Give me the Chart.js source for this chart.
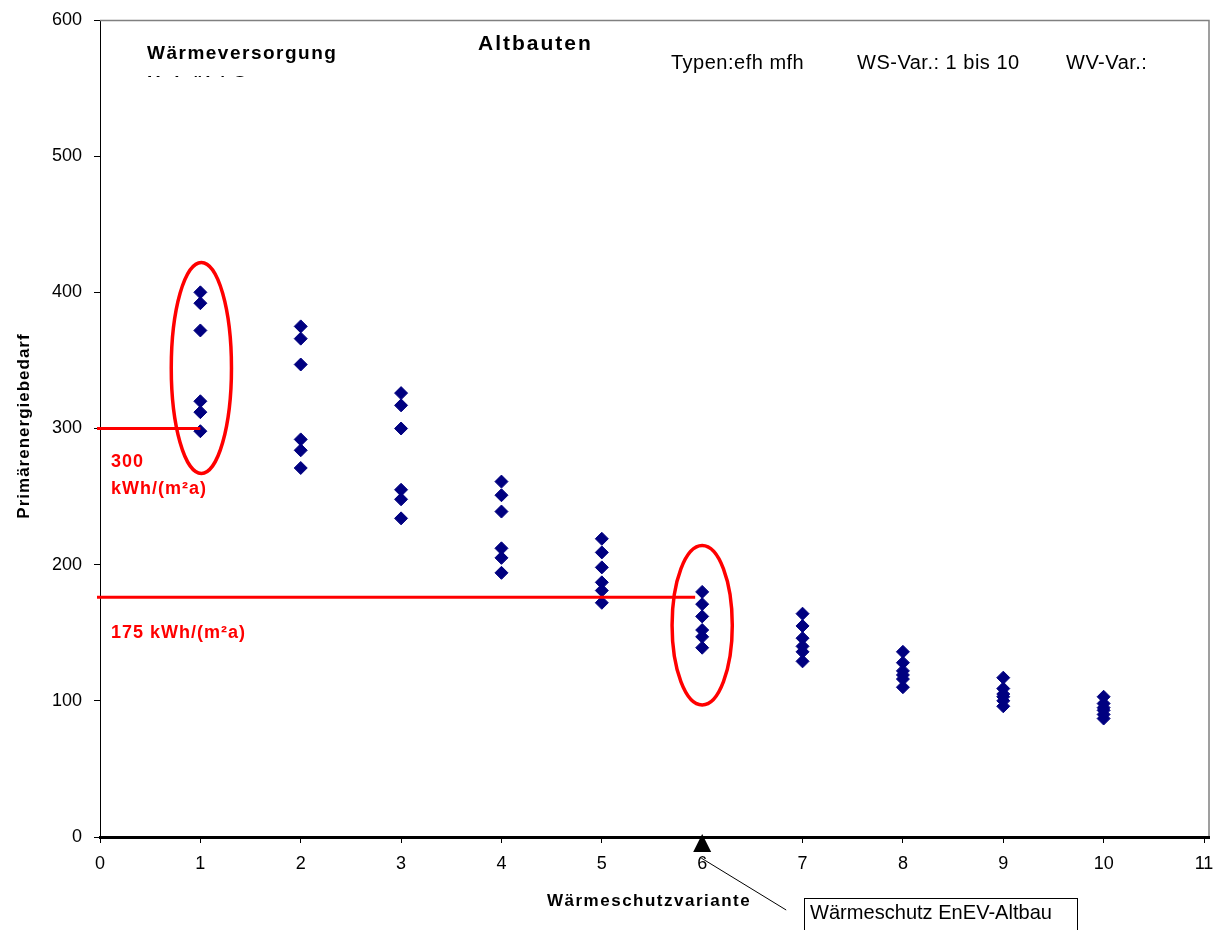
<!DOCTYPE html>
<html lang="de">
<head>
<meta charset="utf-8">
<title>Altbauten - Primärenergiebedarf</title>
<script src="https://cdn.jsdelivr.net/npm/chart.js@4.4.1/dist/chart.umd.min.js"></script>
<style>
  html, body { margin: 0; padding: 0; background: #fff; }
  #wrap { width: 1220px; height: 930px; }
</style>
</head>
<body>
<div id="wrap"><canvas id="pebChart" width="1220" height="930"></canvas></div>
<script>
// Wärmeschutzvarianten (x) und Primärenergiebedarf je Variante (y, kWh/(m²a))
const wsVarianten = [1, 2, 3, 4, 5, 6, 7, 8, 9, 10];
const bedarfWS1 = [400, 392, 372, 320, 312, 298];
const bedarfWS2 = [375, 366, 347, 292, 284, 271];
const bedarfWS3 = [326, 317, 300, 255, 248, 234];
const bedarfWS4 = [261, 251, 239, 212, 205, 194];
const bedarfWS5 = [219, 209, 198, 187, 181, 172];
const bedarfWS6 = [180, 171, 162, 152, 147, 139];
const bedarfWS7 = [164, 155, 146, 140, 136, 129];
const bedarfWS8 = [136, 128, 122, 119, 116, 110];
const bedarfWS9 = [117, 109, 105, 103, 100, 96];
const bedarfWS10 = [103, 98, 95, 93, 90, 87];

const xTicks = [0, 1, 2, 3, 4, 5, 6, 7, 8, 9, 10, 11];
const yTicks = [0, 100, 200, 300, 400, 500, 600];

// Grenzwerte (rote Linien) und markierte Varianten (rote Ellipsen)
const grenzwerte = [300, 176];
const grenzwertBis = [1, 5.93];
const grenzwertLabels = [['300', 'kWh/(m²a)'], ['175 kWh/(m²a)']];
const markierteVarianten = [1.01, 6.0];
const ellipsenVon = [267, 97];
const ellipsenBis = [422, 214];
const enevVariante = 6;

const alleBedarfe = [bedarfWS1, bedarfWS2, bedarfWS3, bedarfWS4, bedarfWS5,
                     bedarfWS6, bedarfWS7, bedarfWS8, bedarfWS9, bedarfWS10];
const punkte = [];
wsVarianten.forEach((ws, i) => {
    alleBedarfe[i].forEach(v => punkte.push({ x: ws, y: v }));
});

const FONT = 'Liberation Sans, Arial, Helvetica, sans-serif';

const annotationPlugin = {
    id: 'altbauAnnotations',
    afterDatasetsDraw(chart) {
        const { ctx, chartArea } = chart;
        const x = chart.scales.x;
        const y = chart.scales.y;
        ctx.save();

        // Rahmen oben / rechts
        ctx.strokeStyle = '#808080';
        ctx.lineWidth = 1.5;
        ctx.beginPath();
        ctx.moveTo(chartArea.left, chartArea.top + 0.5);
        ctx.lineTo(chartArea.right + 5, chartArea.top + 0.5);
        ctx.lineTo(chartArea.right + 5, chartArea.bottom);
        ctx.stroke();

        // x-Achse bis zum Rahmen verlängern
        ctx.strokeStyle = '#000';
        ctx.lineWidth = 3;
        ctx.beginPath();
        ctx.moveTo(chartArea.right - 2, chartArea.bottom + 0.5);
        ctx.lineTo(chartArea.right + 6, chartArea.bottom + 0.5);
        ctx.stroke();

        // rote Grenzwertlinien
        ctx.strokeStyle = '#ff0000';
        ctx.lineWidth = 3;
        grenzwerte.forEach((g, i) => {
            const py = y.getPixelForValue(g);
            ctx.beginPath();
            ctx.moveTo(x.getPixelForValue(0) - 3, py);
            ctx.lineTo(x.getPixelForValue(grenzwertBis[i]), py);
            ctx.stroke();
        });

        // rote Ellipsen
        ctx.lineWidth = 3.5;
        markierteVarianten.forEach((mv, i) => {
            const cx = x.getPixelForValue(mv);
            const top = y.getPixelForValue(ellipsenBis[i]);
            const bottom = y.getPixelForValue(ellipsenVon[i]);
            const rx = x.getPixelForValue(mv + 0.3) - cx;
            ctx.beginPath();
            ctx.ellipse(cx, (top + bottom) / 2, rx, (bottom - top) / 2, 0, 0, Math.PI * 2);
            ctx.stroke();
        });

        // rote Beschriftungen
        ctx.fillStyle = '#ff0000';
        ctx.font = 'bold 18px ' + FONT;
        ctx.letterSpacing = '1px';
        ctx.textAlign = 'left';
        ctx.textBaseline = 'alphabetic';
        ctx.fillText(grenzwertLabels[0][0], 111, 467);
        ctx.fillText(grenzwertLabels[0][1], 111, 494);
        ctx.fillText(grenzwertLabels[1][0], 111, 638);

        // Kopfzeilen
        ctx.fillStyle = '#000';
        ctx.font = 'bold 19px ' + FONT;
        ctx.letterSpacing = '1.5px';
        ctx.fillText('Wärmeversorgung', 147, 59);
        ctx.save();
        ctx.beginPath();
        ctx.rect(140, 70, 200, 7);
        ctx.clip();
        ctx.fillText('Heizöl / Gas', 147, 89);
        ctx.restore();

        ctx.font = 'bold 21px ' + FONT;
        ctx.letterSpacing = '2px';
        ctx.fillText('Altbauten', 478, 50);

        ctx.font = '20px ' + FONT;
        ctx.letterSpacing = '0.5px';
        ctx.fillText('Typen:efh mfh', 671, 69);
        ctx.fillText('WS-Var.: 1 bis 10', 857, 69);
        ctx.fillText('WV-Var.:', 1066, 69);

        // Achsentitel
        ctx.font = 'bold 17px ' + FONT;
        ctx.letterSpacing = '1.5px';
        ctx.fillText('Wärmeschutzvariante', 547, 906);
        ctx.save();
        ctx.translate(29, 426);
        ctx.rotate(-Math.PI / 2);
        ctx.textAlign = 'center';
        ctx.letterSpacing = '1px';
        ctx.fillText('Primärenergiebedarf', 0, 0);
        ctx.restore();

        // EnEV-Markierung
        const tx = x.getPixelForValue(enevVariante);
        ctx.beginPath();
        ctx.moveTo(tx, chartArea.bottom - 3);
        ctx.lineTo(tx + 9, chartArea.bottom + 15);
        ctx.lineTo(tx - 9, chartArea.bottom + 15);
        ctx.closePath();
        ctx.fill();
        ctx.strokeStyle = '#000';
        ctx.lineWidth = 1;
        ctx.beginPath();
        ctx.moveTo(tx - 1, chartArea.bottom + 21);
        ctx.lineTo(tx + 84, 910);
        ctx.stroke();
        ctx.strokeRect(804.5, 898.5, 273, 40);
        ctx.font = '21px "Liberation Sans Narrow", ' + FONT;
        ctx.letterSpacing = '0px';
        ctx.fillText('Wärmeschutz EnEV-Altbau', 810, 919, 242);

        ctx.restore();
    }
};

new Chart(document.getElementById('pebChart'), {
    type: 'scatter',
    data: {
        datasets: [{
            label: 'Primärenergiebedarf',
            data: punkte,
            pointStyle: 'rectRot',
            pointRadius: 6.5,
            pointHoverRadius: 6.5,
            backgroundColor: '#000080',
            borderColor: '#000080',
            borderWidth: 1
        }]
    },
    options: {
        responsive: false,
        animation: false,
        devicePixelRatio: 1,
        layout: {
            padding: { top: 20, right: 16, left: 0, bottom: 0 }
        },
        plugins: {
            legend: { display: false },
            tooltip: { enabled: false }
        },
        scales: {
            x: {
                type: 'linear',
                min: 0,
                max: 11,
                afterFit: scale => {
                    scale.height = 93;
                    scale.paddingLeft = 0;
                    scale.paddingRight = 0;
                },
                afterBuildTicks: scale => { scale.ticks = xTicks.map(v => ({ value: v })); },
                border: { color: '#000', width: 3 },
                grid: { drawOnChartArea: false, color: '#000', tickLength: 6 },
                ticks: { color: '#000', padding: 10, font: { family: FONT, size: 18 } }
            },
            y: {
                type: 'linear',
                min: 0,
                max: 600,
                afterFit: scale => {
                    scale.width = 100;
                    scale.paddingTop = 0;
                    scale.paddingBottom = 0;
                },
                afterBuildTicks: scale => { scale.ticks = yTicks.map(v => ({ value: v })); },
                border: { color: '#000', width: 1 },
                grid: { drawOnChartArea: false, color: '#000', tickLength: 6 },
                ticks: { color: '#000', padding: 12, font: { family: FONT, size: 18 } }
            }
        }
    },
    plugins: [annotationPlugin]
});
</script>
</body>
</html>
